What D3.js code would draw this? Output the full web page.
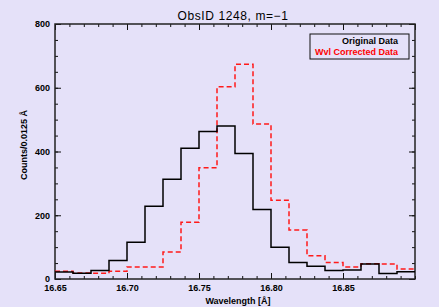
<!DOCTYPE html>
<html lang="en">
<head>
<meta charset="utf-8">
<title>ObsID 1248, m=-1</title>
<script src="https://d3js.org/d3.v7.min.js"></script>
<style>
  html, body { margin: 0; padding: 0; background: #e5e1f9; }
  svg { display: block; font-family: "Liberation Sans", Arial, sans-serif; }
  .axis path { display: none; }
  .axis line { stroke: #111; stroke-width: 1; }
  .axis text { font-size: 9px; font-weight: bold; fill: #000; }
</style>
</head>
<body>
<div id="chart"></div>
<script>
// bin left edges (Angstrom), bin width 0.0125
var binStarts = [16.6500, 16.6625, 16.6750, 16.6875, 16.7000, 16.7125, 16.7250, 16.7375,
                 16.7500, 16.7625, 16.7750, 16.7875, 16.8000, 16.8125, 16.8250, 16.8375,
                 16.8500, 16.8625, 16.8750, 16.8875];
var binEnd = 16.90;

var originalData  = [22, 18, 27, 58, 115, 228, 313, 410, 463, 480, 394, 218, 100, 52, 40, 27, 28, 47, 17, 23];
var correctedData = [24, 19, 18, 24, 38, 38, 85, 178, 349, 603, 674, 486, 247, 154, 73, 52, 38, 48, 47, 31];

var xTicks = [16.65, 16.70, 16.75, 16.80, 16.85];
var xTickLabels = ["16.65", "16.70", "16.75", "16.80", "16.85"];
var yTicks = [0, 200, 400, 600, 800];

var width = 439, height = 307;
var margin = {top: 24, right: 24, bottom: 28, left: 55};

var svg = d3.select("#chart").append("svg")
  .attr("width", width)
  .attr("height", height);

var x = d3.scaleLinear().domain([16.65, 16.90]).range([margin.left, width - margin.right]);
var y = d3.scaleLinear().domain([0, 800]).range([height - margin.bottom, margin.top]);

var xMinor = d3.range(16.65, 16.9001, 0.01);
var yMinor = d3.range(0, 801, 50);

// minor + major ticks on all four sides, pointing inward
function addAxis(gen, tr) {
  svg.append("g").attr("class", "axis").attr("transform", tr).call(gen);
}
addAxis(d3.axisBottom(x).tickValues(xMinor).tickSize(-3).tickFormat(""), "translate(0," + y(0) + ")");
addAxis(d3.axisTop(x).tickValues(xMinor).tickSize(-3).tickFormat(""), "translate(0," + y(800) + ")");
addAxis(d3.axisLeft(y).tickValues(yMinor).tickSize(-3).tickFormat(""), "translate(" + x(16.65) + ",0)");
addAxis(d3.axisRight(y).tickValues(yMinor).tickSize(-3).tickFormat(""), "translate(" + x(16.90) + ",0)");

addAxis(d3.axisBottom(x).tickValues(xTicks).tickSize(-6).tickPadding(6)
  .tickFormat(function(d, i) { return xTickLabels[i]; }), "translate(0," + y(0) + ")");
addAxis(d3.axisTop(x).tickValues(xTicks.concat([16.90])).tickSize(-6).tickFormat(""), "translate(0," + y(800) + ")");
addAxis(d3.axisLeft(y).tickValues(yTicks).tickSize(-6).tickPadding(5), "translate(" + x(16.65) + ",0)");
addAxis(d3.axisRight(y).tickValues(yTicks).tickSize(-6).tickFormat(""), "translate(" + x(16.90) + ",0)");

// frame
svg.append("rect")
  .attr("x", x(16.65)).attr("y", y(800))
  .attr("width", x(16.90) - x(16.65)).attr("height", y(0) - y(800))
  .attr("fill", "none").attr("stroke", "#222").attr("stroke-width", 1.5);

// histogram step lines
function stepPoints(vals) {
  var pts = binStarts.map(function(b, i) { return [b, vals[i]]; });
  pts.push([binEnd, vals[vals.length - 1]]);
  return pts;
}
var line = d3.line()
  .x(function(d) { return x(d[0]); })
  .y(function(d) { return y(d[1]); })
  .curve(d3.curveStepAfter);

svg.append("path")
  .datum(stepPoints(correctedData))
  .attr("d", line)
  .attr("fill", "none")
  .attr("stroke", "#ff1a1a")
  .attr("stroke-width", 1.5)
  .attr("stroke-dasharray", "5,3");

svg.append("path")
  .datum(stepPoints(originalData))
  .attr("d", line)
  .attr("fill", "none")
  .attr("stroke", "#000")
  .attr("stroke-width", 1.5);

// title and axis labels
svg.append("text")
  .attr("x", 233).attr("y", 20)
  .attr("text-anchor", "middle")
  .style("font-size", "12px")
  .style("letter-spacing", "0.6px")
  .text("ObsID 1248, m=\u22121");

svg.append("text")
  .attr("x", (x(16.65) + x(16.90)) / 2 + 3).attr("y", 304)
  .attr("text-anchor", "middle")
  .style("font-size", "9px").style("font-weight", "bold")
  .text("Wavelength [\u00c5]");

svg.append("text")
  .attr("transform", "translate(27,145) rotate(-90)")
  .attr("text-anchor", "middle")
  .style("font-size", "9px").style("font-weight", "bold")
  .text("Counts/0.0125 \u00c5");

// legend
var legend = svg.append("g");
legend.append("rect")
  .attr("x", 310).attr("y", 34).attr("width", 99).attr("height", 25)
  .attr("fill", "none").attr("stroke", "#111").attr("stroke-width", 1);
legend.append("text")
  .attr("x", 398).attr("y", 44)
  .attr("text-anchor", "end")
  .style("font-size", "9px").style("font-weight", "bold")
  .attr("fill", "#000")
  .text("Original Data");
legend.append("text")
  .attr("x", 398).attr("y", 55)
  .attr("text-anchor", "end")
  .style("font-size", "9px").style("font-weight", "bold")
  .attr("fill", "#ff0000")
  .text("Wvl Corrected Data");
</script>
</body>
</html>
